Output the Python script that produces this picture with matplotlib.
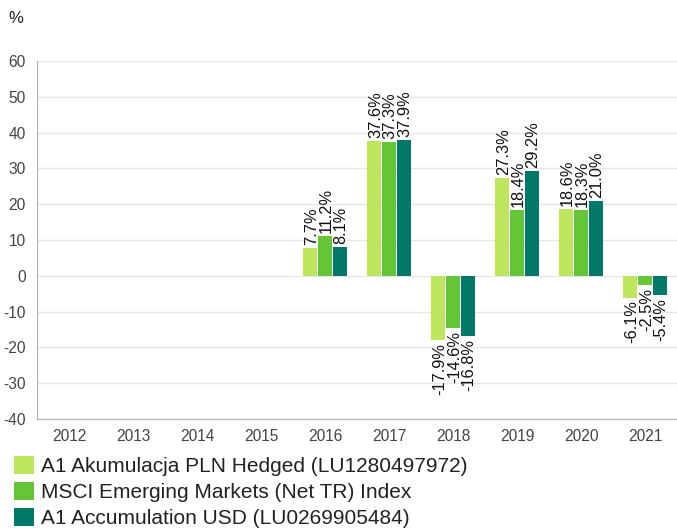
import numpy as np
import matplotlib.pyplot as plt
from matplotlib.patches import Patch

plt.rcParams['font.family'] = ['Liberation Sans', 'DejaVu Sans']
plt.rcParams['axes.unicode_minus'] = False

years = ['2012', '2013', '2014', '2015', '2016', '2017', '2018', '2019', '2020', '2021']
series_names = [
    'A1 Akumulacja PLN Hedged (LU1280497972)',
    'MSCI Emerging Markets (Net TR) Index',
    'A1 Accumulation USD (LU0269905484)',
]
pln_hedged = [None, None, None, None, 7.7, 37.6, -17.9, 27.3, 18.6, -6.1]
msci_em = [None, None, None, None, 11.2, 37.3, -14.6, 18.4, 18.3, -2.5]
usd_acc = [None, None, None, None, 8.1, 37.9, -16.8, 29.2, 21.0, -5.4]
colors = ['#bde65c', '#66c437', '#00796b']

fig = plt.figure(figsize=(6.77, 5.32), dpi=100)
ax = fig.add_axes([0.0547, 0.2124, 0.9453, 0.6729])

x = np.arange(len(years))
width = 0.23
for i, (vals, col) in enumerate(zip([pln_hedged, msci_em, usd_acc], colors)):
    xs = [xi + (i - 1) * width for xi, v in zip(x, vals) if v is not None]
    vs = [v for v in vals if v is not None]
    ax.bar(xs, vs, width=width * 0.96, color=col, zorder=3)
    for xv, v in zip(xs, vs):
        off = 0.8 if v >= 0 else -0.8
        ax.text(xv + 0.02, v + off, f'{v:.1f}%', rotation=90, ha='center',
                va='bottom' if v >= 0 else 'top', fontsize=11.8, color='#111111')

ax.set_xlim(-0.5, 9.5)
ax.set_ylim(-40, 60)
ax.set_yticks(range(-40, 61, 10))
ax.set_xticks(x)
ax.set_xticklabels(years)
ax.grid(axis='y', color='#e6e6e6', linewidth=1, zorder=0)
ax.tick_params(length=0, labelsize=11.2, labelcolor='#444444', pad=8)
ax.tick_params(axis='x', pad=7)
for s in ['top', 'right']:
    ax.spines[s].set_visible(False)
for s in ['left', 'bottom']:
    ax.spines[s].set_color('#b0b0b0')

fig.text(0.012, 0.965, '%', fontsize=12, color='#222222', va='center')

handles = [Patch(facecolor=c, edgecolor='none') for c in colors]
fig.legend(handles, series_names, loc='lower left', bbox_to_anchor=(0.002, -0.016),
           frameon=False, fontsize=15, handlelength=0.95, handleheight=0.95,
           handletextpad=0.35, labelspacing=0.27, borderaxespad=0.2,
           labelcolor='#222222')

fig.savefig('out.png', dpi=100)
